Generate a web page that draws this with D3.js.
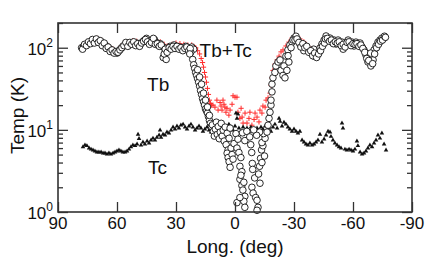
<!DOCTYPE html>
<html>
<head>
<meta charset="utf-8">
<script src="https://cdn.jsdelivr.net/npm/d3@7"></script>
<style>
  body { margin: 0; background: #fff; }
  text { font-family: "Liberation Sans", Arial, sans-serif; fill: #111; }
</style>
</head>
<body>
<div id="chart-area"></div>
<script>
var w = 436;
var h = 264;

// Tb (open circles): [longitude, temperature K]
var tbPoints = [
  [78,100],[77,104],[76,108],[75,112],[74,116],[73,118],[72,122],[71,120],[70,124],[69,121],
  [68,118],[67,112],[66,108],[65,103],[64,98],[63,94],[62,90],[61,88],[60,86],[59,92],
  [58,98],[57,104],[56,109],[55,112],[54,108],[53,112],[52,116],[51,110],[50,114],[49,106],
  [48,112],[47,118],[46,124],[45,130],[44,122],[43,114],[42,120],[41,126],[40,116],[39,108],
  [38,112],[37,104],[36.5,76],[36,100],[35,72],[34,96],[33,104],[32,100],[31,108],[30,104],
  [29,98],[28,102],[27,96],[26,100],[25,104],[24,98],[23,94],[22,102],[21,96],[22.5,88],
  [77.5,96],[76.5,110],[75.5,106],[74.5,118],[73.5,112],[72.5,126],[71.5,114],[70.5,128],[69.5,116],
  [68.5,122],[67.5,106],[66.5,114],[65.5,98],[64.5,102],[63.5,90],[62.5,94],[61.5,86],[60.5,90],
  [59.5,88],[58.5,94],[57.5,100],[56.5,106],[55.5,116],[54.5,104],[53.5,116],[52.5,110],[51.5,118],
  [50.5,106],[49.5,112],[48.5,104],[47.5,114],[46.5,120],[45.5,126],[44.5,118],[43.5,110],[42.5,116],
  [41.5,130],[40.5,110],[39.5,112],[38.5,104],[37.5,108],[36,84],[35.5,96],[34.5,88],[33.5,100],
  [32.5,96],[31.5,104],[30.5,98],[29.5,104],[28.5,96],[27.5,100],[26.5,92],[25.5,98],[24.5,102],
  [23.5,92],[22.8,98],[23,84],
  [21.5,72],[21,62],[20.5,56],[20,50],[19.5,46],[19,42],[18.5,38],[18,34],[17.5,30],[17,27],
  [16.5,24],[16,22],[15.5,20],[15,18],[14.5,17],[14,16],[13.5,14.5],[13,13],[12.5,12],[12,11],
  [19,54],[18,44],[17,36],[16,28],[15,23],[14,19],[13,15],
  [11.5,11.5],[11,9.6],[10.5,8.4],[10,10.2],[9.5,12.4],[9,8.8],[8.5,11],[8,7.8],[7.5,9.4],[7,12],
  [6.5,8.4],[6,9.9],[5.5,7.3],[5,10.8],[4.5,6.6],[4,9.1],[3.5,5.7],[3,7.9],[2.5,10.5],
  [4,5.2],[3.5,4.6],[3,4.1],[2.5,3.5],[2,6],[1.5,5],[1,4.4],[0.5,6.8],[-0.5,9],[-1,6],
  [-1.5,7.7],[-2,5.3],[-2.5,3.6],[-3,4.6],[-3.5,3.1],[-2.5,2.5],[-3,2.8],[-3.5,2.1],[-4,1.85],
  [-4.5,2.3],[-5,1.55],[-4.5,1.35],[-1,1.3],[-5,1.14],[-2.5,1.5],[-3.8,9.2],[-5,7.4],[-6,9.6],
  [-7.5,8.2],[-8,6.6],[-8.5,5.3],[-8.8,3.9],[-9,3.3],[-8.6,2],[-9.2,1.7],[-10,2.6],[-10.5,1.5],
  [-11.2,1.39],[-11.7,1.14],[-11.2,1.05],[-12,2.9],[-12.7,2.24],[-12.5,3.6],[-13,4.5],[-13.7,4],
  [-13.5,5.7],[-14.2,6.4],[-13.7,7],[-15,4.8],[-15.3,7.9],[-14.5,9],[-12.5,9.4],[-11,8.6],[-9.5,10],
  [-16.3,9.4],[-16.8,11.4],[-17.3,13.8],[-17.8,16.4],[-18.3,20],[-18.3,23],[-18.8,29],[-18.8,36],
  [-19.3,43],[-20.3,50],[-20.8,60],[-21.9,67],[-22.9,71],[-23.4,53],[-24.4,46],[-24.9,60],[-25.4,43],
  [-25.9,79],[-26.4,53],[-26.9,94],[-27.4,67],[-27.9,108],[-29,117],[-30,131],[-31,138],[-32,124],
  [-33,111],[-34.1,105],[-35.1,108],[-36.1,99],[-37.1,94],[-38.1,89],[-39.2,84],[-40.2,79],[-41.2,81],
  [-42.2,89],[-43.2,99],[-44.2,111],[-45.3,124],[-46.3,139],[-47.3,124],[-48.3,131],[-49.3,117],
  [-50.3,124],[-51.4,111],[-52.4,124],[-53.4,111],[-54.4,117],[-55.4,105],[-56.4,111],[-57.5,124],
  [-58.5,111],[-59.5,117],[-60.5,105],[-61.5,117],[-62.5,108],[-63.6,114],[-64.6,102],[-65.6,94],
  [-66.6,81],[-67.6,67],[-68.6,79],[-69.1,60],[-70.2,71],[-70.7,94],[-71.7,105],[-72.7,117],
  [-73.7,124],[-74.7,131],[-75.8,131],[-35,92],[-55,96],[-40,96],
  [-27,80],[-28.5,100],[-29.5,124],[-30.5,124],[-31.5,128],[-32.5,116],[-33.5,102],[-34.5,112],
  [-35.5,100],[-36.5,104],[-37.5,88],[-38.5,92],[-39.5,80],[-40.5,86],[-41.5,76],[-42.5,84],
  [-43.5,92],[-44.5,104],[-45.5,114],[-46,128],[-47,130],[-48,120],[-49,124],[-50,112],[-51,118],
  [-52,114],[-53,118],[-54,106],[-55,110],[-56,102],[-57,116],[-58,118],[-59,106],[-60,112],
  [-61,110],[-62,112],[-63,104],[-64,108],[-65,98],[-66,88],[-67,74],[-68,70],[-69,86],[-70,64],
  [-71,84],[-72,100],[-73,110],[-74,120],[-75,124],[-76,138],[-76.5,134]
];

// Tb+Tc (red crosses)
var sumPoints = [
  [78,106],[76,114],[74,122],[72,128],[70,130],[68,124],[66,114],[64,104],[62,96],[60,92],
  [58,104],[56,116],[54,116],[52,122],[50,120],[48,118],[46,130],[44,128],[42,126],[40,122],
  [38,118],[36,110],[34,106],[32,110],[30,114],[28,112],[26,110],[24,108],[22,108],[21,104],
  [20,100],[19,92],[18,84],[17.2,74],[16.5,66],[16,58],[15.5,50],[15,44],[14.5,38],[14,32],
  [13.5,27],[13,23],[12.5,21],[12,20],[11.2,20],[10.2,18.9],[9.2,23],[8.6,17.4],[7.6,21.5],
  [7.1,19.5],[6.6,17.4],[6.1,23],[5.6,20.5],[5.1,18.9],[4.6,16.4],[4.1,18.3],[3.1,15.1],[2.5,17.4],
  [1.5,20.5],[1,26],[0,25],[-1,25],[-1.5,16.4],[-2.5,13.8],[-3.1,18.3],[-3.6,14.3],[-4.1,12.1],
  [-5.1,16],[-6.1,12.1],[-7.1,13.8],[-7.6,16.4],[-8.6,11.4],[-9.7,13.4],[-10.2,16],[-11.2,14.3],
  [-12.2,12.5],[-12.7,17.4],[-13.7,16],[-14.2,19.5],[-15.3,18.9],[-15.8,23],[-16.8,24.5],[-17.8,28],
  [-18.3,35],[-18.8,43],[-19.3,53],[-20.3,63],[-21.4,71],[-22.4,79],[-23.4,89],[-24.4,94],[-25.9,105],
  [-27.4,117],[-29,131],[-31,140],[-33,128],[-35,118],[-37,104],[-39,96],[-41,90],[-43,104],[-45,128],
  [-47,136],[-49,128],[-51,122],[-53,120],[-55,116],[-57,124],[-59,120],[-61,118],[-63,116],[-65,104],
  [-66.5,92],[-68,84],[-70,88],[-72,112],[-74,130],[-76,136]
];

// Tc (filled triangles)
var tcPoints = [
  [77.3,6.2],[76.3,6.5],[75.3,6.4],[74.2,6],[73.2,5.8],[72.2,5.65],[71.2,5.5],[70.2,5.35],[69.2,5.35],
  [68.1,5.35],[67.1,5.2],[66.1,5.2],[65.1,5.05],[64.1,5.2],[63.1,5.05],[62,5.2],[61,5.35],[60,5.5],
  [59,5.65],[58,5.5],[57,5.35],[55.9,5.35],[54.9,5.5],[53.9,5.8],[52.9,6.2],[51.9,6.5],[50.8,6.4],
  [49.8,6.7],[49.3,8.8],[48.8,7.8],[47.8,6.5],[46.8,7.1],[45.8,6.7],[44.7,7.3],[43.7,6.9],[42.7,7.5],
  [41.7,7.9],[40.7,7.5],[39.7,8.1],[38.6,8.6],[38.1,9.9],[37.6,8.1],[36.6,8.8],[35.6,8.6],[34.6,9.4],
  [33.6,9.1],[32.5,9.9],[31.5,10.8],[30.5,10.2],[29.5,11.1],[28.5,10.5],[27.5,11.4],[26.4,11.7],
  [25.4,10.8],[24.4,10.2],[23.4,11.1],[22.4,11.7],[21.4,10.8],[20.3,9.9],[19.3,10.5],[18.3,11.1],
  [17.3,10.5],[16.3,9.6],[15.3,10.2],[14.2,10.8],[13.2,9.9],[12.2,9.4],[11.2,10.2],[10.2,9.6],
  [9.2,9.1],[8.1,9.9],[7.1,10.5],[6.1,9.6],[5.1,10.2],[4.1,9.4],[3.1,11.7],[2,10.8],[1,9.9],[0,11.1],
  [-0.5,16],[-1.5,15.5],[-1,13.8],[-2,10.5],[-3.1,9.6],[-4.1,10.8],[-5.1,9.9],[-6.1,10.5],[-7.1,9.6],
  [-8.1,10.8],[-9.2,10.2],[-10.2,9.4],[-11.2,10.5],[-12.2,9.9],[-13.2,10.8],[-14.2,10.2],[-15.3,11.1],
  [-16.3,9.9],[-17.3,10.5],[-18.3,9.6],[-19.3,10.8],[-20.3,11.7],[-21.4,10.5],[-22.4,13.8],[-22.9,12.7],
  [-23.9,11.1],[-24.9,12.3],[-25.9,11.7],[-26.9,10.8],[-27.9,10.2],[-29,9.6],[-30,10.2],[-31,9.6],
  [-32,9.1],[-33,9.6],[-34.1,7.5],[-35.1,7.1],[-36.1,6.7],[-37.1,6.5],[-38.1,6.9],[-39.2,6.5],
  [-40.2,6.7],[-41.2,7.1],[-42.2,7.5],[-43.2,8.8],[-44.2,7.1],[-45.3,7.7],[-46.3,8.6],[-47.3,9.6],
  [-48.3,9.4],[-48.8,8.3],[-49.8,7.5],[-50.8,6.9],[-51.9,6.5],[-52.9,6.2],[-53.9,6],[-54.4,12.1],
  [-54.9,10.5],[-55.9,5.8],[-56.9,5.65],[-58,5.8],[-59,5.65],[-60,5.5],[-61,5.8],[-62,7.3],[-62.5,6.4],
  [-63.6,5.35],[-64.6,5.05],[-65.6,5.2],[-66.6,5.5],[-67.6,6],[-68.6,6.5],[-69.7,6.2],[-70.7,6.9],
  [-71.7,7.5],[-72.7,8.6],[-73.7,7.9],[-74.7,9.1],[-75.8,6.7],[-76.8,5.65]
];

var xTicks = [90, 60, 30, 0, -30, -60, -90];
var yMajor = [1, 10, 100];
var yExp = ["0", "1", "2"];
var labels = [
  {text: "Tb+Tc", lon: 18, t: 78},
  {text: "Tb", lon: 44.7, t: 30},
  {text: "Tc", lon: 44.2, t: 2.9}
];

var margin = {left: 58, top: 23, right: 24, bottom: 52};
var pw = w - margin.left - margin.right;
var ph = h - margin.top - margin.bottom;

var svg = d3.select('#chart-area').append('svg')
    .attr('width', w)
    .attr('height', h);

var x = d3.scaleLinear().domain([90, -90]).range([0, pw]);
var y = d3.scaleLog().domain([1, 200]).range([ph, 0]);

var g = svg.append('g')
    .attr('transform', 'translate(' + margin.left + ',' + margin.top + ')');

// data marks
var cross = 2.6;
g.append('g').selectAll('path')
    .data(sumPoints)
    .enter()
    .append('path')
    .attr('d', function(d){
      var cx = x(d[0]), cy = y(d[1]);
      return 'M' + (cx - cross) + ',' + cy + 'H' + (cx + cross) +
             'M' + cx + ',' + (cy - cross) + 'V' + (cy + cross);
    })
    .attr('stroke', '#ff2a2a')
    .attr('stroke-width', 1);

var tri = d3.symbol().type(d3.symbolTriangle).size(9);
g.append('g').selectAll('path')
    .data(tcPoints)
    .enter()
    .append('path')
    .attr('d', tri)
    .attr('transform', function(d){ return 'translate(' + x(d[0]) + ',' + y(d[1]) + ')'; })
    .attr('fill', '#111');

g.append('g').selectAll('circle')
    .data(tbPoints)
    .enter()
    .append('circle')
    .attr('cx', function(d){ return x(d[0]); })
    .attr('cy', function(d){ return y(d[1]); })
    .attr('r', 3.3)
    .attr('fill', '#fff')
    .attr('stroke', '#111')
    .attr('stroke-width', 0.9);

// axes, ticks inward
var axisColor = '#333';
var minor = y.ticks().filter(function(v){ return yMajor.indexOf(v) < 0; });

function styleAxis(sel){
  sel.select('.domain').remove();
  sel.selectAll('line').attr('stroke', axisColor).attr('stroke-width', 1.3);
  sel.selectAll('text').remove();
}

g.append('g').attr('transform', 'translate(0,' + ph + ')')
    .call(d3.axisBottom(x).tickValues(xTicks).tickSize(-10)).call(styleAxis);
g.append('g')
    .call(d3.axisTop(x).tickValues(xTicks).tickSize(-10)).call(styleAxis);
g.append('g')
    .call(d3.axisLeft(y).tickValues(yMajor).tickSize(-10)).call(styleAxis);
g.append('g')
    .call(d3.axisLeft(y).tickValues(minor).tickSize(-5)).call(styleAxis);
g.append('g').attr('transform', 'translate(' + pw + ',0)')
    .call(d3.axisRight(y).tickValues(yMajor).tickSize(-10)).call(styleAxis);
g.append('g').attr('transform', 'translate(' + pw + ',0)')
    .call(d3.axisRight(y).tickValues(minor).tickSize(-5)).call(styleAxis);

g.append('rect')
    .attr('width', pw)
    .attr('height', ph)
    .attr('fill', 'none')
    .attr('stroke', axisColor)
    .attr('stroke-width', 1.6);

// tick labels
g.selectAll('.xlab')
    .data(xTicks)
    .enter()
    .append('text')
    .attr('class', 'xlab')
    .attr('x', function(d){ return x(d); })
    .attr('y', ph + 17)
    .attr('text-anchor', 'middle')
    .attr('font-size', 17)
    .text(function(d){ return d; });

var ylab = g.selectAll('.ylab')
    .data(yMajor)
    .enter()
    .append('text')
    .attr('class', 'ylab')
    .attr('x', -5)
    .attr('y', function(d){ return y(d) + 7; })
    .attr('text-anchor', 'end')
    .attr('font-size', 17);
ylab.append('tspan').text('10');
ylab.append('tspan')
    .attr('dy', -8)
    .attr('font-size', 12)
    .text(function(d, i){ return yExp[i]; });

// axis titles
svg.append('text')
    .attr('x', margin.left + pw / 2)
    .attr('y', 253)
    .attr('text-anchor', 'middle')
    .attr('font-size', 19)
    .text('Long. (deg)');

svg.append('text')
    .attr('transform', 'translate(24,' + (margin.top + ph / 2 - 2) + ') rotate(-90)')
    .attr('text-anchor', 'middle')
    .attr('font-size', 19)
    .text('Temp (K)');

// series labels
g.selectAll('.slab')
    .data(labels)
    .enter()
    .append('text')
    .attr('class', 'slab')
    .attr('x', function(d){ return x(d.lon); })
    .attr('y', function(d){ return y(d.t); })
    .attr('font-size', 19)
    .text(function(d){ return d.text; });
</script>
</body>
</html>
